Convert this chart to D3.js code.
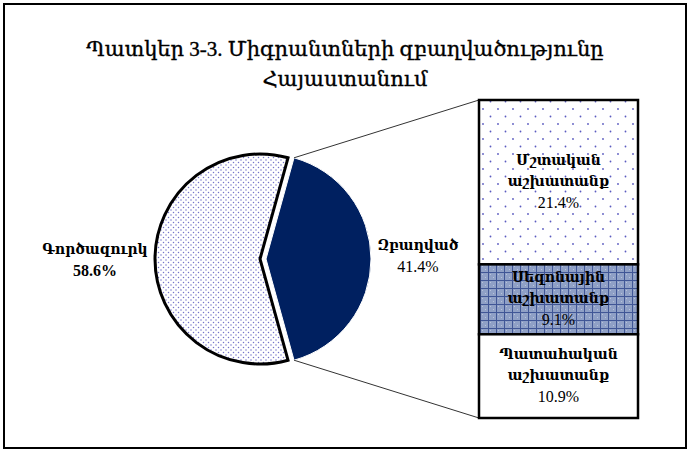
<!DOCTYPE html>
<html><head><meta charset="utf-8">
<script src="https://cdn.jsdelivr.net/npm/d3@7"></script>
<style>html,body{margin:0;padding:0;background:#fff;}svg{display:block;}</style>
</head><body>
<script>
const titleLines = ["Պատկեր 3-3. Միգրանտների զբաղվածությունը", "Հայաստանում"];
const pieCategories = ["Գործազուրկ", "Զբաղված"];
const pieValues = [58.6, 41.4];
const pieLabels = ["58.6%", "41.4%"];
const barCategories = [["Մշտական", "աշխատանք"], ["Սեզոնային", "աշխատանք"], ["Պատահական", "աշխատանք"]];
const barValues = [21.4, 9.1, 10.9];
const barLabels = ["21.4%", "9.1%", "10.9%"];

const W = 689, H = 451;
const svg = d3.select("body").append("svg").attr("width", W).attr("height", H);
const defs = svg.append("defs");
const FONT = "'Liberation Serif','DejaVu Serif',serif";

// patterns
const p1 = defs.append("pattern").attr("id", "pieDots").attr("patternUnits", "userSpaceOnUse").attr("width", 5).attr("height", 5);
p1.append("rect").attr("width", 5).attr("height", 5).attr("fill", "#fff");
p1.append("circle").attr("cx", 1).attr("cy", 1).attr("r", 0.75).attr("fill", "#7474c8");
p1.append("circle").attr("cx", 3.5).attr("cy", 3.5).attr("r", 0.75).attr("fill", "#7474c8");

const p2 = defs.append("pattern").attr("id", "barDots").attr("patternUnits", "userSpaceOnUse").attr("width", 15).attr("height", 15);
p2.append("rect").attr("width", 15).attr("height", 15).attr("fill", "#fff");
p2.append("circle").attr("cx", 3).attr("cy", 4).attr("r", 0.9).attr("fill", "#5a5ac0");
p2.append("circle").attr("cx", 10.5).attr("cy", 11.5).attr("r", 0.9).attr("fill", "#5a5ac0");

const p3 = defs.append("pattern").attr("id", "grid").attr("patternUnits", "userSpaceOnUse").attr("width", 8).attr("height", 8);
p3.append("rect").attr("width", 8).attr("height", 8).attr("fill", "#8fa0c6");
p3.append("rect").attr("x", 2).attr("y", 2).attr("width", 1).attr("height", 1).attr("fill", "#b8c3dc");
p3.append("rect").attr("x", 5).attr("y", 5).attr("width", 1).attr("height", 1).attr("fill", "#b8c3dc");
p3.append("rect").attr("x", 0).attr("y", 0).attr("width", 8).attr("height", 1).attr("fill", "#405696");
p3.append("rect").attr("x", 0).attr("y", 0).attr("width", 1).attr("height", 8).attr("fill", "#405696");

// frame
svg.append("rect").attr("x", 4).attr("y", 4).attr("width", 682).attr("height", 444)
  .attr("fill", "#fff").attr("stroke", "#000").attr("stroke-width", 2);

// title
svg.append("g").selectAll("text").data(titleLines).join("text")
  .attr("x", 345).attr("y", (d, i) => 56 + i * 30)
  .attr("text-anchor", "middle").attr("font-family", FONT).attr("font-size", 21)
  .attr("stroke", "#000").attr("stroke-width", 0.35)
  .text(d => d);

// pie
const cx = 260, cy = 259, r = 105, explode = 6;
const total = d3.sum(pieValues);
const otherShare = pieValues[1] / total;
const pie = d3.pie().sort(null)
  .startAngle(Math.PI / 2 + otherShare * Math.PI)
  .endAngle(Math.PI / 2 + otherShare * Math.PI + 2 * Math.PI);
const arcs = pie(pieValues);
const arc = d3.arc().innerRadius(0).outerRadius(r);
const pg = svg.append("g");
arcs.forEach((a, i) => {
  const mid = (a.startAngle + a.endAngle) / 2;
  const off = i === 1 ? explode : 0;
  const ox = cx + off * Math.sin(mid), oy = cy - off * Math.cos(mid);
  pg.append("path").attr("transform", `translate(${ox},${oy})`).attr("d", arc(a))
    .attr("fill", i === 0 ? "url(#pieDots)" : "#002060")
    .attr("stroke", i === 0 ? "#000" : "#fff")
    .attr("stroke-width", i === 0 ? 3 : 1)
    .attr("stroke-linejoin", "miter");
});

// bar
const barX = 479, barW = 159, barTop = 100, barBottom = 418;
const y = d3.scaleLinear().domain([0, d3.sum(barValues)]).range([barTop, barBottom]);
const cum = [0];
barValues.forEach((v, i) => cum.push(cum[i] + v));
const fills = ["url(#barDots)", "url(#grid)", "#fff"];

// connectors
const a1 = arcs[1];
const ex = cx + explode * Math.sin((a1.startAngle + a1.endAngle) / 2);
const ey = cy - explode * Math.cos((a1.startAngle + a1.endAngle) / 2);
const pTop = [ex + r * Math.sin(a1.startAngle), ey - r * Math.cos(a1.startAngle)];
const pBot = [ex + r * Math.sin(a1.endAngle), ey - r * Math.cos(a1.endAngle)];
svg.append("line").attr("x1", pTop[0]).attr("y1", pTop[1]).attr("x2", barX).attr("y2", y(0))
  .attr("stroke", "#333").attr("stroke-width", 1);
svg.append("line").attr("x1", pBot[0]).attr("y1", pBot[1]).attr("x2", barX).attr("y2", y(cum[3]))
  .attr("stroke", "#333").attr("stroke-width", 1);

const bg = svg.append("g");
barValues.forEach((v, i) => {
  bg.append("rect").attr("x", barX).attr("y", y(cum[i])).attr("width", barW)
    .attr("height", y(cum[i + 1]) - y(cum[i]))
    .attr("fill", fills[i]).attr("stroke", "#000").attr("stroke-width", 2.5);
});

// bar labels
barValues.forEach((v, i) => {
  const yc = (y(cum[i]) + y(cum[i + 1])) / 2;
  const t = bg.append("text").attr("text-anchor", "middle").attr("font-family", FONT).attr("font-size", 14);
  t.append("tspan").attr("x", barX + barW / 2).attr("y", yc - 17).attr("font-weight", "bold").text(barCategories[i][0]);
  t.append("tspan").attr("x", barX + barW / 2).attr("y", yc + 4).attr("font-weight", "bold").text(barCategories[i][1]);
  t.append("tspan").attr("x", barX + barW / 2).attr("y", yc + 26).attr("font-size", 16).text(barLabels[i]);
});

// pie labels
const pieLabelPos = [[95, 254], [418, 250]];
pieCategories.forEach((c, i) => {
  const t = svg.append("text").attr("text-anchor", "middle").attr("font-family", FONT).attr("font-size", 14);
  t.append("tspan").attr("x", pieLabelPos[i][0]).attr("y", pieLabelPos[i][1]).attr("font-weight", "bold").text(c);
  t.append("tspan").attr("x", pieLabelPos[i][0]).attr("y", pieLabelPos[i][1] + 22).attr("font-size", 16)
    .attr("font-weight", i === 0 ? "bold" : "normal").text(pieLabels[i]);
});
</script>
</body></html>
